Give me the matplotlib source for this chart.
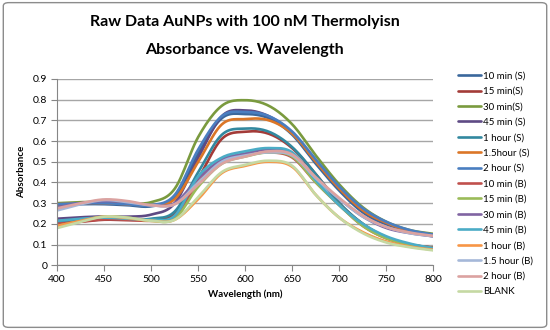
import numpy as np
import matplotlib
matplotlib.use("Agg")
import matplotlib.pyplot as plt
from matplotlib.patches import FancyBboxPatch

wavelength = [400, 425, 450, 475, 500, 525, 550, 575, 600, 625, 650, 675, 700, 725, 750, 775, 800]

series_names = ["10 min (S)", "15 min(S)", "30 min(S)", "45 min (S)", "1 hour (S)", "1.5hour (S)",
                "2 hour (S)", "10 min (B)", "15 min (B)", "30 min (B)", "45 min (B)", "1 hour (B)",
                "1.5 hour (B)", "2 hour (B)", "BLANK"]

s10min_S = [0.29, 0.295, 0.295, 0.29, 0.285, 0.33, 0.54, 0.71, 0.73, 0.71, 0.63, 0.49, 0.36, 0.255, 0.195, 0.16, 0.14]
s15min_S = [0.20, 0.21, 0.22, 0.218, 0.22, 0.25, 0.42, 0.61, 0.645, 0.635, 0.565, 0.44, 0.30, 0.20, 0.135, 0.10, 0.085]
s30min_S = [0.30, 0.305, 0.305, 0.30, 0.305, 0.37, 0.62, 0.77, 0.797, 0.77, 0.68, 0.53, 0.39, 0.28, 0.21, 0.17, 0.152]
s45min_S = [0.225, 0.232, 0.236, 0.235, 0.245, 0.30, 0.52, 0.72, 0.748, 0.72, 0.64, 0.50, 0.37, 0.265, 0.205, 0.165, 0.145]
s1h_S = [0.21, 0.218, 0.225, 0.222, 0.225, 0.26, 0.45, 0.63, 0.66, 0.645, 0.57, 0.44, 0.30, 0.20, 0.135, 0.10, 0.085]
s15h_S = [0.295, 0.30, 0.30, 0.295, 0.29, 0.32, 0.50, 0.68, 0.706, 0.70, 0.635, 0.50, 0.37, 0.265, 0.205, 0.165, 0.145]
s2h_S = [0.295, 0.30, 0.30, 0.295, 0.29, 0.34, 0.56, 0.72, 0.74, 0.72, 0.645, 0.51, 0.38, 0.275, 0.21, 0.17, 0.148]
s10min_B = [0.20, 0.212, 0.222, 0.22, 0.215, 0.235, 0.40, 0.50, 0.53, 0.545, 0.52, 0.40, 0.29, 0.19, 0.13, 0.10, 0.085]
s15min_B = [0.19, 0.215, 0.235, 0.23, 0.215, 0.225, 0.38, 0.49, 0.525, 0.545, 0.525, 0.40, 0.29, 0.19, 0.13, 0.10, 0.082]
s30min_B = [0.28, 0.30, 0.31, 0.305, 0.29, 0.30, 0.42, 0.51, 0.54, 0.56, 0.54, 0.42, 0.32, 0.235, 0.18, 0.155, 0.14]
s45min_B = [0.215, 0.225, 0.23, 0.225, 0.22, 0.24, 0.43, 0.52, 0.55, 0.566, 0.545, 0.41, 0.29, 0.20, 0.14, 0.105, 0.082]
s1h_B = [0.19, 0.215, 0.235, 0.228, 0.215, 0.22, 0.32, 0.445, 0.48, 0.50, 0.475, 0.34, 0.23, 0.16, 0.115, 0.09, 0.075]
s15h_B = [0.265, 0.295, 0.315, 0.305, 0.29, 0.295, 0.40, 0.50, 0.53, 0.545, 0.53, 0.42, 0.32, 0.235, 0.185, 0.155, 0.14]
s2h_B = [0.275, 0.30, 0.318, 0.31, 0.29, 0.295, 0.39, 0.49, 0.525, 0.55, 0.535, 0.425, 0.325, 0.24, 0.185, 0.158, 0.142]
blank = [0.18, 0.21, 0.235, 0.23, 0.215, 0.22, 0.33, 0.45, 0.485, 0.505, 0.48, 0.34, 0.23, 0.155, 0.11, 0.087, 0.072]

all_series = [s10min_S, s15min_S, s30min_S, s45min_S, s1h_S, s15h_S, s2h_S,
              s10min_B, s15min_B, s30min_B, s45min_B, s1h_B, s15h_B, s2h_B, blank]

colors = ["#3A679C", "#A33B38", "#7A9A3E", "#5E4A84", "#32889F", "#DB7627", "#4A7EC0",
          "#C0504D", "#9BBB59", "#8064A2", "#4BACC6", "#F79646", "#A5B8D9", "#DBA2A0", "#C5D9A3"]

x_ticks = [400, 450, 500, 550, 600, 650, 700, 750, 800]
y_ticks = [0, 0.1, 0.2, 0.3, 0.4, 0.5, 0.6, 0.7, 0.8, 0.9]


def smooth(x, y, n=12):
    # Catmull-Rom rendering (like Excel "smoothed line")
    x = np.asarray(x, float); y = np.asarray(y, float)
    px = np.concatenate([[2 * x[0] - x[1]], x, [2 * x[-1] - x[-2]]])
    py = np.concatenate([[2 * y[0] - y[1]], y, [2 * y[-1] - y[-2]]])
    xs, ys = [], []
    t = np.linspace(0, 1, n, endpoint=False)
    for i in range(1, len(px) - 2):
        for arr, out in ((px, xs), (py, ys)):
            p0, p1, p2, p3 = arr[i - 1], arr[i], arr[i + 1], arr[i + 2]
            out.append(0.5 * ((2 * p1) + (-p0 + p2) * t + (2 * p0 - 5 * p1 + 4 * p2 - p3) * t ** 2
                              + (-p0 + 3 * p1 - 3 * p2 + p3) * t ** 3))
    xs.append([x[-1]]); ys.append([y[-1]])
    return np.concatenate(xs), np.concatenate(ys)


plt.rcParams['font.family'] = ['Lato', 'DejaVu Sans']
fig = plt.figure(figsize=(5.5, 3.3), dpi=100)
fig.patch.set_facecolor("white")
border = FancyBboxPatch((0.006, 0.008), 0.988, 0.984, boxstyle="round,pad=0,rounding_size=0.01",
                        transform=fig.transFigure, facecolor="none", edgecolor="#8C8C8C", lw=1.0)
fig.patches.append(border)

ax = fig.add_axes([0.104, 0.196, 0.684, 0.565])
for name, vals, c in zip(series_names, all_series, colors):
    sx, sy = smooth(wavelength, vals)
    ax.plot(sx, sy, color=c, lw=1.9, label=name, solid_capstyle="round")

ax.set_xlim(400, 800)
ax.set_ylim(0, 0.9)
ax.set_xticks(x_ticks)
ax.set_yticks(y_ticks)
ax.set_xticklabels([str(v) for v in x_ticks])
ax.set_yticklabels(["0"] + [f"{v:.1f}" for v in y_ticks[1:]])
ax.tick_params(axis="both", labelsize=7.5, length=4, color="#868686", direction="out", pad=3)
ax.yaxis.grid(True, color="#A6A6A6", lw=1.0)
ax.set_axisbelow(True)
for s in ["top", "right"]:
    ax.spines[s].set_visible(False)
for s in ["left", "bottom"]:
    ax.spines[s].set_color("#868686")
ax.set_xlabel("Wavelength (nm)", fontsize=7, fontweight="bold", labelpad=4)
ax.set_ylabel("Absorbance", fontsize=7, fontweight="bold", labelpad=5)

fig.text(0.445, 0.932, "Raw Data AuNPs with 100 nM Thermolyisn", ha="center", va="center",
         fontsize=11.5, fontweight="bold")
fig.text(0.445, 0.848, "Absorbance vs. Wavelength", ha="center", va="center",
         fontsize=11.5, fontweight="bold")

fig.legend(loc="upper left", bbox_to_anchor=(0.825, 0.795), frameon=False, fontsize=7,
           handlelength=2.4, labelspacing=0.66, handletextpad=0.2, borderaxespad=0)

fig.savefig("out.png", dpi=100)
